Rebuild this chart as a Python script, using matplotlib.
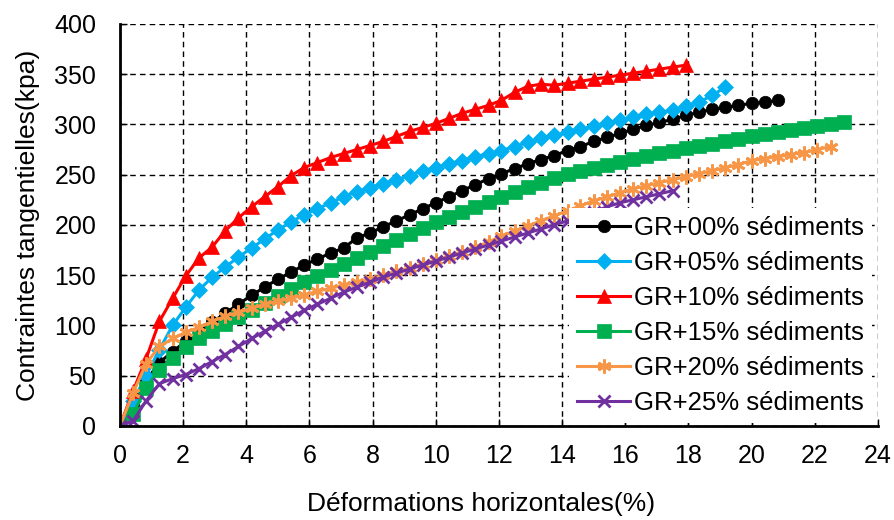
import matplotlib
matplotlib.use("Agg")
import matplotlib.pyplot as plt

plt.rcParams["font.family"] = ["Liberation Sans", "DejaVu Sans"]

# Horizontal strain steps (%), shared by all tests
strain = [0, 0.42, 0.83, 1.25, 1.67, 2.08, 2.5, 2.92, 3.33, 3.75,
          4.17, 4.58, 5.0, 5.42, 5.83, 6.25, 6.67, 7.08, 7.5, 7.92,
          8.33, 8.75, 9.17, 9.58, 10.0, 10.42, 10.83, 11.25, 11.67, 12.08,
          12.5, 12.92, 13.33, 13.75, 14.17, 14.58, 15.0, 15.42, 15.83, 16.25,
          16.67, 17.08, 17.5, 17.92, 18.33, 18.75, 19.17, 19.58, 20.0, 20.42,
          20.83, 21.25, 21.67, 22.08, 22.5, 22.92]

# Shear stress (kPa) for each sediment content
gr00 = [0, 22, 45, 63, 74, 84, 93, 103, 112, 121,
        130, 138, 146, 153, 160, 166, 172, 177, 187, 192,
        198, 204, 210, 216, 222, 228, 234, 240, 246, 251,
        256, 261, 265, 269, 274, 278, 283, 287, 291, 295,
        299, 302, 305, 309, 312, 315, 317, 319, 321, 322,
        324]
gr05 = [0, 25, 50, 76, 100, 118, 135, 148, 158, 168,
        177, 186, 195, 203, 210, 216, 222, 228, 233, 237,
        241, 245, 249, 254, 257, 261, 264, 268, 271, 274,
        278, 282, 286, 289, 292, 295, 298, 301, 304, 307,
        310, 312, 314, 318, 322, 329, 337]
gr10 = [0, 35, 67, 104, 127, 149, 167, 178, 194, 207,
        218, 228, 238, 249, 257, 262, 267, 271, 275, 279,
        283, 288, 293, 297, 301, 306, 311, 315, 319, 324,
        332, 338, 340, 339, 341, 343, 345, 347, 349, 351,
        353, 355, 357, 359]
gr15 = [0, 12, 38, 56, 68, 78, 87, 94, 101, 108,
        115, 122, 129, 136, 143, 149, 155, 161, 167, 173,
        179, 185, 191, 197, 203, 208, 213, 218, 223, 228,
        233, 238, 242, 247, 251, 254, 257, 260, 263, 266,
        269, 272, 274, 277, 279, 281, 283, 285, 288, 290,
        292, 294, 296, 298, 300, 302]
gr20 = [0, 33, 62, 79, 87, 93, 98, 104, 109, 113,
        117, 121, 124, 127, 130, 134, 137, 140, 143, 146,
        150, 154, 157, 161, 165, 169, 173, 178, 183, 189,
        194, 199, 204, 209, 214, 219, 224, 228, 232, 236,
        239, 242, 245, 248, 251, 254, 257, 260, 264, 266,
        268, 270, 272, 275, 278]
gr25 = [0, 5, 25, 42, 47, 51, 57, 64, 71, 79,
        87, 94, 101, 108, 115, 121, 127, 133, 138, 143,
        148, 152, 156, 160, 164, 168, 172, 176, 180, 184,
        188, 192, 196, 200, 204, 208, 213, 218, 222, 225,
        228, 231, 234]

# label, values, colour, marker, marker size
series = [
    ("GR+00% sédiments", gr00, "black", "o", 9),
    ("GR+05% sédiments", gr05, "#00B0F0", "D", 8),
    ("GR+10% sédiments", gr10, "#FF0000", "^", 10),
    ("GR+15% sédiments", gr15, "#00B050", "s", 10),
    ("GR+20% sédiments", gr20, "#F79646", (6, 2, 0), 10),
    ("GR+25% sédiments", gr25, "#7030A0", "x", 9),
]

fig = plt.figure(figsize=(8.95, 5.2), dpi=100)
ax = fig.add_axes([0.134, 0.181, 0.847, 0.773])

for label, vals, col, mk, ms in series:
    mew = 2 if mk in ("x", (6, 2, 0)) else 0.5
    ax.plot(strain[:len(vals)], vals, color=col, lw=2.2, marker=mk, ms=ms,
            markerfacecolor=col, markeredgecolor=col, markeredgewidth=mew,
            label=label)

ax.set_xlim(0, 24)
ax.set_ylim(0, 400)
ax.set_xticks(range(0, 25, 2))
ax.set_yticks(range(0, 401, 50))
ax.grid(True, color="black", linestyle=(0, (4, 3)), linewidth=1)
ax.set_axisbelow(True)

for side in ("top", "right"):
    ax.spines[side].set_visible(False)
for side in ("left", "bottom"):
    ax.spines[side].set_linewidth(2)
    ax.spines[side].set_zorder(3)

ax.tick_params(direction="in", length=5, width=1, labelsize=18)
ax.tick_params(axis="x", pad=13)
ax.tick_params(axis="y", pad=17)

ax.set_xlabel("Déformations horizontales(%)", fontsize=19)
ax.xaxis.set_label_coords(0.476, -0.165)
ax.set_ylabel("Contraintes tangentielles(kpa)", fontsize=19, labelpad=10)

leg = ax.legend(loc="lower right", bbox_to_anchor=(0.992, 0.008), fontsize=18.5,
                numpoints=1, frameon=True, fancybox=False, framealpha=1,
                edgecolor="none", handlelength=2.1, handletextpad=0.15,
                labelspacing=0.43, borderpad=0.3, borderaxespad=0)

fig.savefig("out.png", dpi=100)
